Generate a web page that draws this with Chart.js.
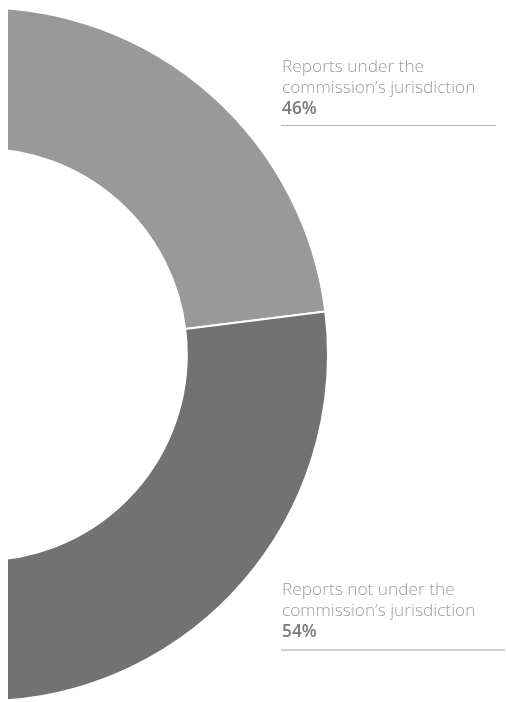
<!DOCTYPE html>
<html>
<head>
<meta charset="utf-8">
<script src="https://cdn.jsdelivr.net/npm/chart.js@4"></script>
<style>
  html, body { margin: 0; padding: 0; background: #fff; }
  body { width: 506px; height: 702px; position: relative; overflow: hidden; font-family: "Open Sans", sans-serif; }
  #wrap { position: absolute; left: 8px; top: 0; width: 498px; height: 702px; overflow: hidden; }
  #chart { position: absolute; left: -377px; top: 4px; }
  .label { position: absolute; left: 282px; font-size: 17.3px; line-height: 21px; color: #9d9d9d; font-weight: 300; white-space: nowrap; }
  .label b { display: block; font-weight: 600; color: #7a7a7a; }
  .rule { position: absolute; left: 281px; height: 0; }
</style>
</head>
<body>
<div id="wrap"><canvas id="chart" width="700" height="701"></canvas></div>
<div class="label" id="lab0" style="top:55px"></div>
<div class="rule" style="top:125px; width:215px; border-top:1px solid #b4b4b4"></div>
<div class="label" id="lab1" style="top:578px"></div>
<div class="rule" style="top:649px; width:224px; border-top:2px solid #cfcfcf"></div>
<script>
const categories = [
  ['Reports under the', 'commission\u2019s jurisdiction'],
  ['Reports not under the', 'commission\u2019s jurisdiction']
];
const values = [46, 54];
const colors = ['#999999', '#717271'];

categories.forEach((lines, i) => {
  document.getElementById('lab' + i).innerHTML =
    lines.join('<br>') + '<b>' + values[i] + '%</b>';
});

const ctx = document.getElementById('chart').getContext('2d');
new Chart(ctx, {
  type: 'doughnut',
  data: {
    labels: categories.map(l => l.join(' ')),
    datasets: [{
      data: values,
      backgroundColor: colors,
      borderColor: '#ffffff',
      borderWidth: 2,
      hoverOffset: 0
    }]
  },
  options: {
    responsive: false,
    animation: false,
    events: [],
    rotation: -82.7,
    radius: 347,
    cutout: 207,
    layout: { padding: 0 },
    plugins: {
      legend: { display: false },
      tooltip: { enabled: false }
    }
  }
});
</script>
</body>
</html>
